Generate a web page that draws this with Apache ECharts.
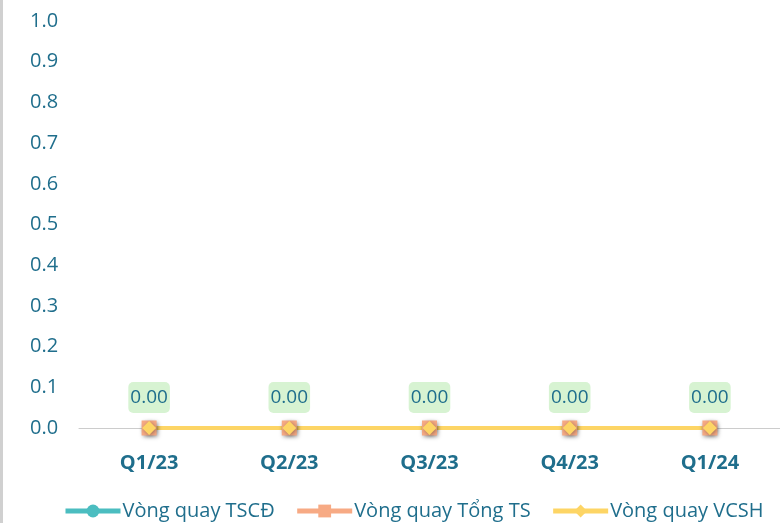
<!DOCTYPE html>
<html>
<head>
<meta charset="utf-8">
<script src="https://cdn.jsdelivr.net/npm/echarts@6/dist/echarts.min.js"></script>
<style>
  html, body { margin: 0; padding: 0; background: #fff; }
  #chart { width: 780px; height: 523px; box-sizing: border-box; border-left: 3px solid #d0d0d0; }
</style>
</head>
<body>
<div id="chart"></div>
<script>
  // quý
  var categories = ['Q1/23', 'Q2/23', 'Q3/23', 'Q4/23', 'Q1/24'];
  var vongQuayTSCD = [0, 0, 0, 0, 0];
  var vongQuayTongTS = [0, 0, 0, 0, 0];
  var vongQuayVCSH = [0, 0, 0, 0, 0];

  var textColor = '#1f6e8c';
  var font = '"Open Sans", "Noto Sans", sans-serif';
  var colors = ['#4bbdc0', '#f7aa84', '#fdd565'];

  var myChart = echarts.init(document.getElementById('chart'));

  function makeSeries(name, data, color, symbol, size, showLabel) {
    return {
      name: name,
      type: 'line',
      data: data,
      symbol: symbol,
      symbolSize: size,
      lineStyle: { width: 4, color: color },
      itemStyle: {
        color: color,
        shadowBlur: 4,
        shadowColor: 'rgba(0,0,0,0.35)',
        shadowOffsetX: 1,
        shadowOffsetY: 1
      },
      label: {
        show: showLabel,
        position: 'top',
        distance: 8,
        formatter: function (p) { return p.value.toFixed(2); },
        color: textColor,
        fontFamily: font,
        fontSize: 19,
        lineHeight: 20,
        backgroundColor: '#d7f3d2',
        borderRadius: 5,
        padding: [6, 2, 5, 2]
      }
    };
  }

  var option = {
    backgroundColor: '#fff',
    animation: false,
    grid: { left: 76, right: 0, top: 21, bottom: 95 },
    legend: {
      bottom: -3,
      left: 55,
      itemWidth: 55,
      itemHeight: 16,
      itemGap: 20,
      textStyle: { color: textColor, fontFamily: font, fontSize: 20, padding: [0, 0, 0, -3] },
      data: [
        { name: 'Vòng quay TSCĐ', lineStyle: { width: 5, color: colors[0] } },
        { name: 'Vòng quay Tổng TS', lineStyle: { width: 5, color: colors[1] } },
        { name: 'Vòng quay VCSH', lineStyle: { width: 5, color: colors[2] } }
      ]
    },
    xAxis: {
      type: 'category',
      data: categories,
      axisLine: { lineStyle: { color: '#cccccc', width: 1 } },
      axisTick: { show: false },
      axisLabel: { color: textColor, fontFamily: font, fontSize: 20, fontWeight: 'bold', margin: 25 }
    },
    yAxis: {
      type: 'value',
      min: 0,
      max: 1,
      interval: 0.1,
      splitLine: { show: false },
      axisLabel: {
        color: textColor,
        fontFamily: font,
        fontSize: 20,
        margin: 49,
        align: 'left',
        formatter: function (v) { return v.toFixed(1); }
      }
    },
    series: [
      makeSeries('Vòng quay TSCĐ', vongQuayTSCD, colors[0], 'circle', 12, false),
      makeSeries('Vòng quay Tổng TS', vongQuayTongTS, colors[1], 'rect', 15, false),
      makeSeries('Vòng quay VCSH', vongQuayVCSH, colors[2], 'diamond', 14, true)
    ]
  };
  myChart.setOption(option);
</script>
</body>
</html>
